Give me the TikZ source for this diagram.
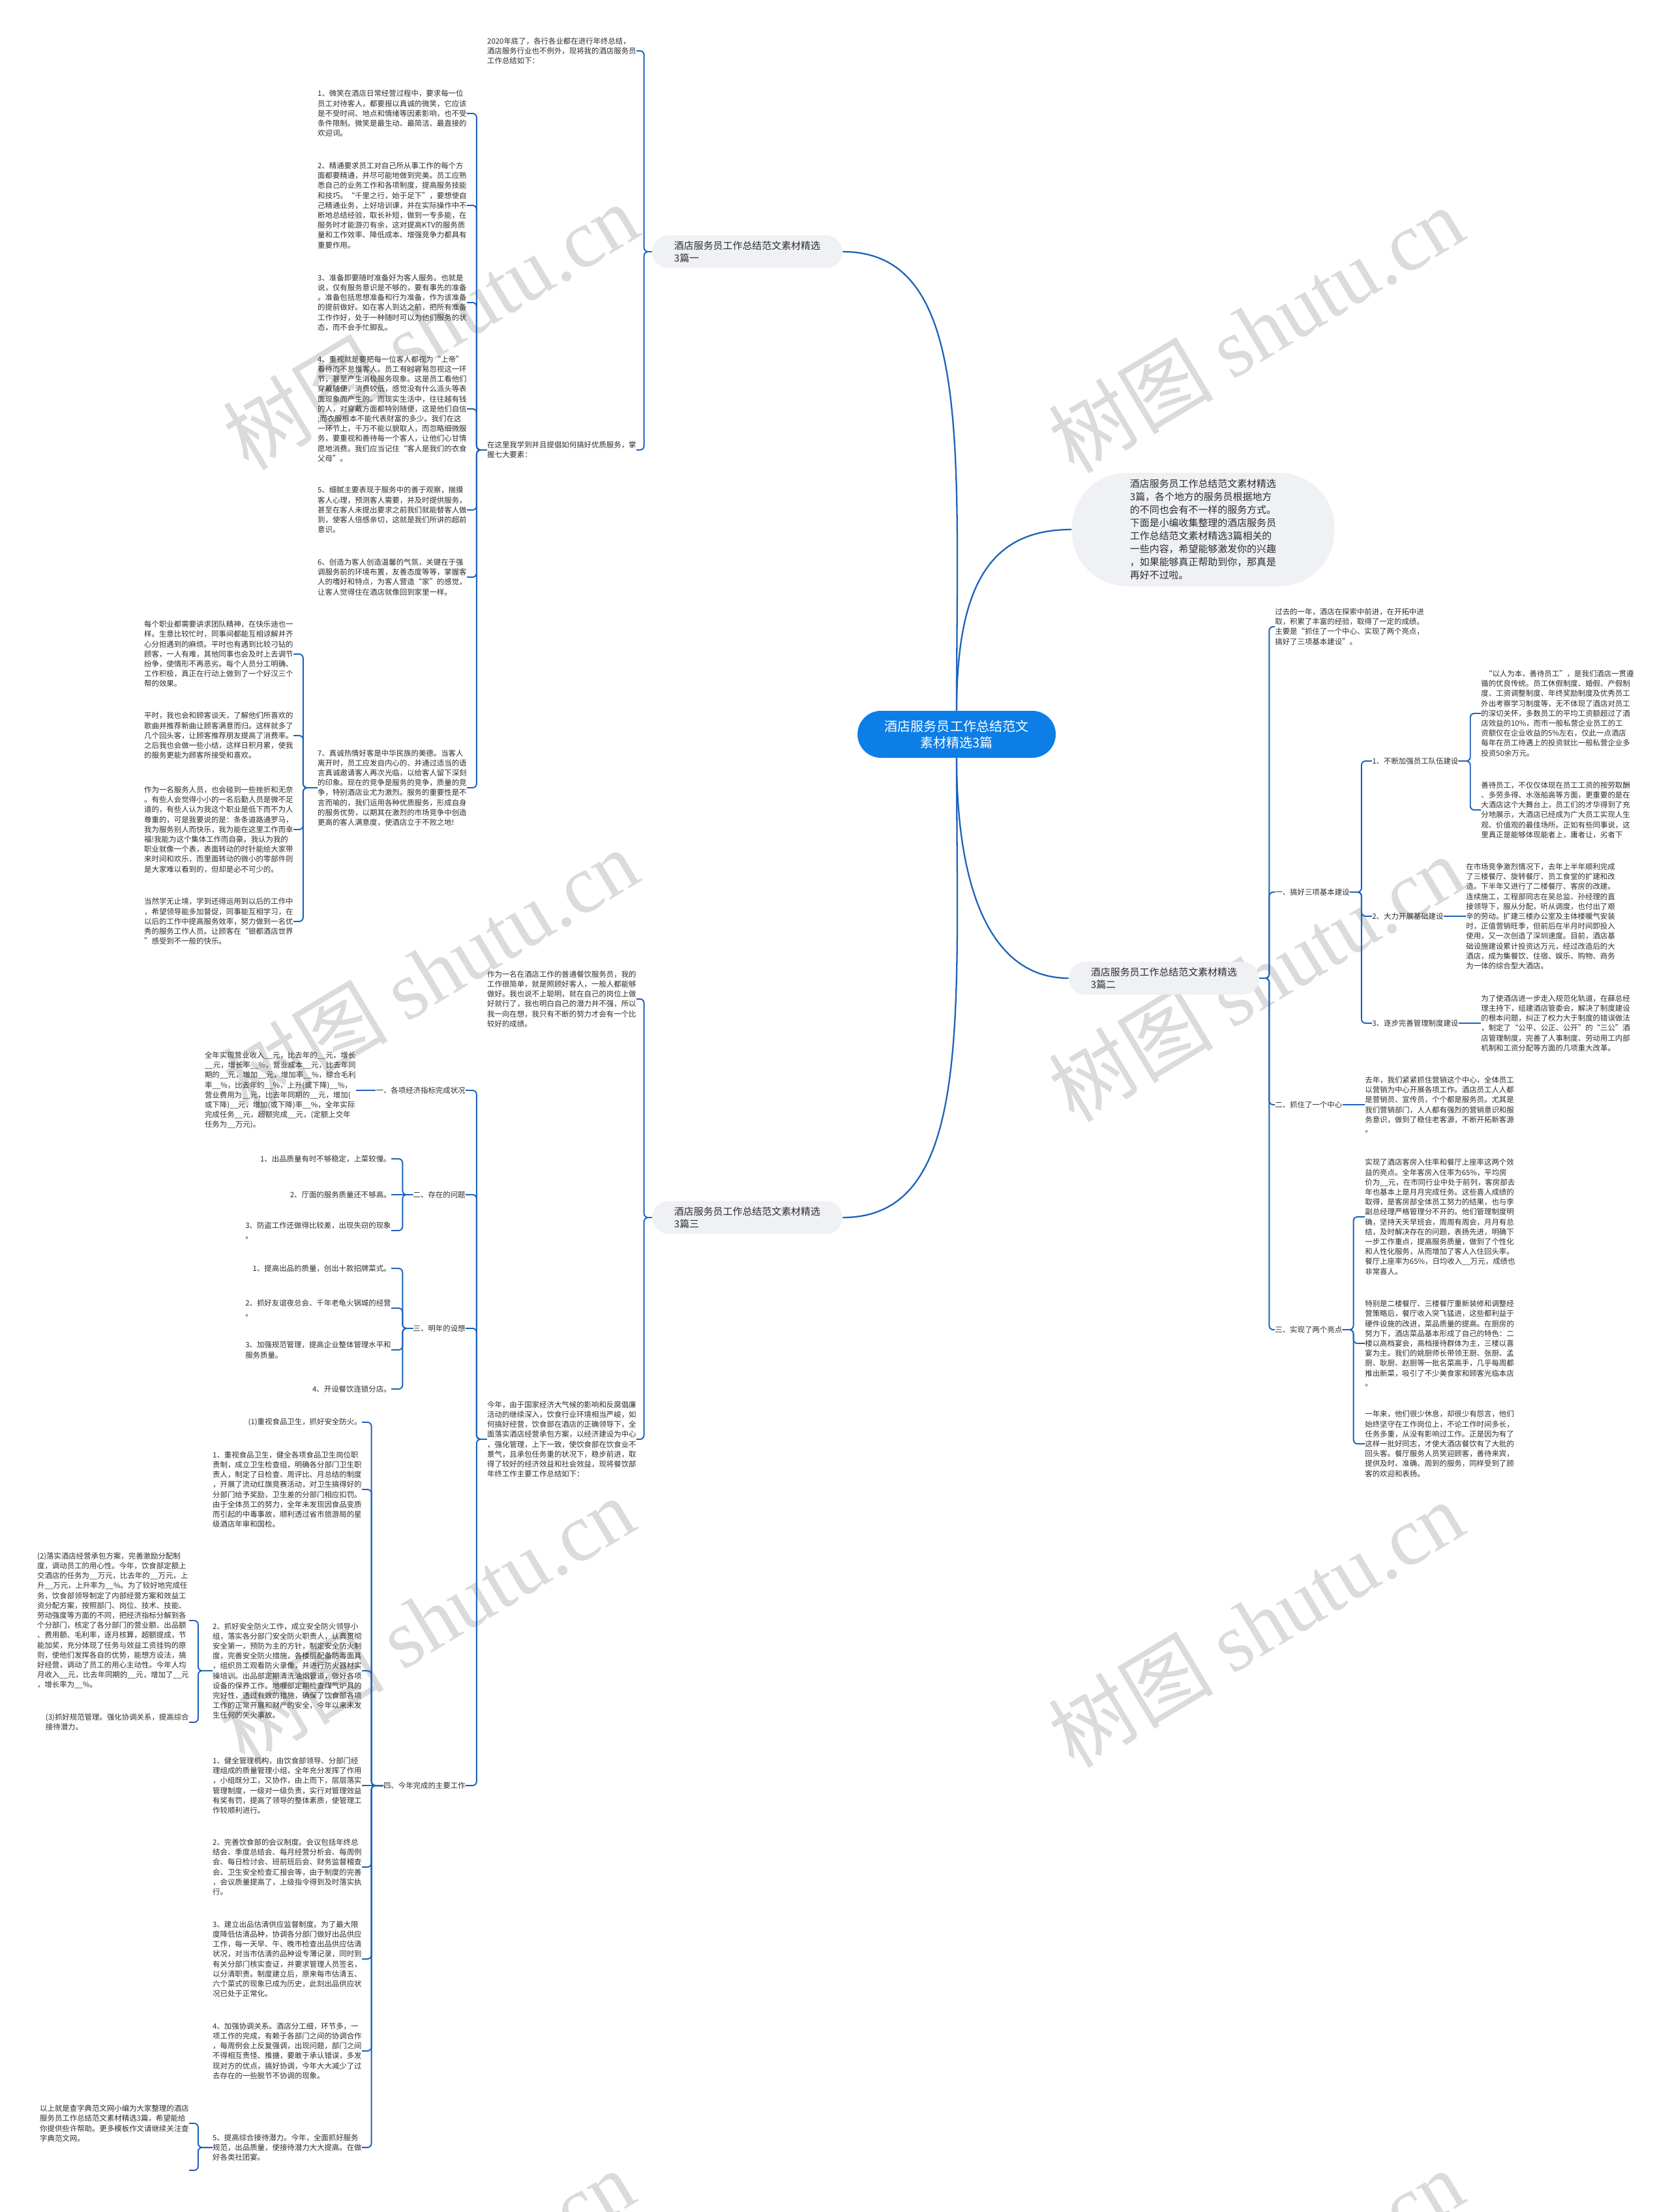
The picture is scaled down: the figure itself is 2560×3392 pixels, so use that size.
\documentclass[tikz,border=0pt]{standalone}
\usepackage{fontspec}
\setmainfont{Noto Sans CJK SC}
\newfontfamily\wmfont{Liberation Serif}
\usepackage{xcolor}
\usepackage{tikz}

\definecolor{linkblue}{RGB}{28,99,186}
\definecolor{rootblue}{RGB}{13,126,230}
\definecolor{topicgray}{RGB}{239,241,244}
\definecolor{inkgray}{RGB}{45,45,45}

\tikzset{
  link/.style={draw=linkblue, line width=1.1pt, rounded corners=3.5pt},
  trunk/.style={draw=linkblue, line width=1.3pt},
  leaf/.style={align=left, inner sep=0pt, text=inkgray, font=\fontsize{6.5pt}{8.65pt}\selectfont},
  topic/.style={fill=topicgray, rounded corners=5mm, align=left, minimum width=58.4mm, minimum height=10mm, text=inkgray, font=\fontsize{8.5pt}{10.8pt}\selectfont},
  introbox/.style={fill=topicgray, rounded corners=17mm, align=left, minimum width=80.6mm, minimum height=34.8mm, text=inkgray, font=\fontsize{8.5pt}{11.4pt}\selectfont},
  rootbox/.style={fill=rootblue, text=white, rounded corners=7.2mm, align=center, minimum width=60.8mm, minimum height=14.4mm, font=\fontsize{11.4pt}{14.2pt}\selectfont},
  wm/.style={text=gray!28, rotate=31, inner sep=0pt, font=\fontsize{72pt}{72pt}\selectfont}
}

\begin{document}
\begin{tikzpicture}[x=0.2mm,y=-0.2mm]
\useasboundingbox (0,0) rectangle (2560,3392);
\fill[white] (0,0) rectangle (2560,3392);
\clip (0,0) rectangle (2560,3392);

\foreach \wx/\wy in {660/500,1926/505,660/1490,1926/1500,654/2484,1926/2490,654/3515,1926/3515}
  \node[wm] at (\wx,\wy) {树图 {\wmfont shutu.cn}};

\node[rootbox] (root) at (1467,1126) {酒店服务员工作总结范文\\素材精选3篇};
\node[introbox] (intro) at (1845,812) {酒店服务员工作总结范文素材精选\\
3篇，各个地方的服务员根据地方\\的不同也会有不一样的服务方式。\\下面是小编收集整理的酒店服务员\\
工作总结范文素材精选3篇相关的\\一些内容，希望能够激发你的兴趣\\，如果能够真正帮助到你，那真是\\再好不过啦。};
\node[topic] (p1) at (1146,386) {酒店服务员工作总结范文素材精选\\3篇一};
\node[topic] (p2) at (1785,1500) {酒店服务员工作总结范文素材精选\\3篇二};
\node[topic] (p3) at (1146,1867) {酒店服务员工作总结范文素材精选\\3篇三};

% 篇一
\node[leaf, anchor=east] (intro1) at (976,78) {2020年底了，各行各业都在进行年终总结，\\酒店服务行业也不例外，现将我的酒店服务员\\工作总结如下：};
\node[leaf, anchor=east] (seven) at (976,690) {在这里我学到并且提倡如何搞好优质服务，掌\\握七大要素：};
\node[leaf, anchor=east] (i1) at (716,174) {1、微笑在酒店日常经营过程中，要求每一位\\员工对待客人，都要报以真诚的微笑，它应该\\
是不受时间、地点和情绪等因素影响，也不受\\条件限制。微笑是最生动、最简洁、最直接的\\欢迎词。};
\node[leaf, anchor=east] (i2) at (716,315) {2、精通要求员工对自己所从事工作的每个方\\面都要精通，并尽可能地做到完美。员工应熟\\
悉自己的业务工作和各项制度，提高服务技能\\和技巧。“千里之行，始于足下”，要想使自\\
己精通业务，上好培训课，并在实际操作中不\\断地总结经验，取长补短，做到一专多能，在\\
服务时才能游刃有余，这对提高KTV的服务质\\量和工作效率、降低成本、增强竞争力都具有\\重要作用。};
\node[leaf, anchor=east] (i3) at (716,464) {3、准备即要随时准备好为客人服务。也就是\\说，仅有服务意识是不够的，要有事先的准备\\
。准备包括思想准备和行为准备，作为该准备\\的提前做好。如在客人到达之前，把所有准备\\
工作作好，处于一种随时可以为他们服务的状\\态，而不会手忙脚乱。};
\node[leaf, anchor=east] (i4) at (716,627) {4、重视就是要把每一位客人都视为“上帝”\\看待而不怠慢客人。员工有时容易忽视这一环\\
节，甚至产生消极服务现象。这是员工看他们\\穿戴随便，消费较低，感觉没有什么派头等表\\
面现象而产生的。而现实生活中，往往越有钱\\的人，对穿戴方面都特别随便，这是他们自信\\
;而衣服根本不能代表财富的多少。我们在这\\一环节上，千万不能以貌取人，而忽略细微服\\
务，要重视和善待每一个客人，让他们心甘情\\愿地消费。我们应当记住“客人是我们的衣食\\父母”。};
\node[leaf, anchor=east] (i5) at (716,782) {5、细腻主要表现于服务中的善于观察，揣摸\\客人心理，预测客人需要，并及时提供服务，\\
甚至在客人未提出要求之前我们就能替客人做\\到，使客人倍感亲切，这就是我们所讲的超前\\意识。};
\node[leaf, anchor=east] (i6) at (716,885) {6、创造为客人创造温馨的气氛，关键在于强\\调服务前的环境布置，友善态度等等，掌握客\\
人的嗜好和特点，为客人营造“家”的感觉，\\让客人觉得住在酒店就像回到家里一样。};
\node[leaf, anchor=east] (i7) at (716,1208) {7、真诚热情好客是中华民族的美德。当客人\\离开时，员工应发自内心的、并通过适当的语\\
言真诚邀请客人再次光临，以给客人留下深刻\\的印象。现在的竞争是服务的竞争，质量的竞\\
争，特别酒店业尤为激烈。服务的重要性是不\\言而喻的，我们运用各种优质服务，形成自身\\
的服务优势，以期其在激烈的市场竞争中创造\\更高的客人满意度，使酒店立于不败之地!};
\node[leaf, anchor=east] (f1) at (450,1003) {每个职业都需要讲求团队精神，在快乐迪也一\\样。生意比较忙时，同事间都能互相谅解并齐\\
心分担遇到的麻烦。平时也有遇到比较刁钻的\\顾客，一人有难，其他同事也会及时上去调节\\
纷争，使情形不再恶劣。每个人员分工明确、\\工作积极，真正在行动上做到了一个好汉三个\\帮的效果。};
\node[leaf, anchor=east] (f2) at (450,1128) {平时，我也会和顾客谈天，了解他们所喜欢的\\歌曲并推荐新曲让顾客满意而归。这样就多了\\
几个回头客，让顾客推荐朋友提高了消费率。\\之后我也会做一些小结，这样日积月累，使我\\的服务更能为顾客所接受和喜欢。};
\node[leaf, anchor=east] (f3) at (450,1272) {作为一名服务人员，也会碰到一些挫折和无奈\\。有些人会觉得小小的一名后勤人员是微不足\\
道的，有些人认为我这个职业是低下而不为人\\尊重的，可是我要说的是：条条道路通罗马，\\
我为服务别人而快乐，我为能在这里工作而幸\\福!我能为这个集体工作而自豪。我认为我的\\
职业就像一个表，表面转动的时针能给大家带\\来时间和欢乐，而里面转动的微小的零部件则\\是大家难以看到的，但却是必不可少的。};
\node[leaf, anchor=east] (f4) at (450,1413) {当然学无止境，学到还得运用到以后的工作中\\，希望领导能多加督促，同事能互相学习，在\\
以后的工作中提高服务效率，努力做到一名优\\秀的服务工作人员。让顾客在“银都酒店世界\\”感受到不一般的快乐。};

% 篇二
\node[leaf, anchor=west] (past) at (1955,961) {过去的一年，酒店在探索中前进，在开拓中进\\取，积累了丰富的经验，取得了一定的成绩。\\
主要是“抓住了一个中心、实现了两个亮点，\\搞好了三项基本建设”。};
\node[leaf, anchor=west] (s1) at (1955,1368) {一、搞好三项基本建设};
\node[leaf, anchor=west] (s2) at (1955,1694) {二、抓住了一个中心};
\node[leaf, anchor=west] (s3) at (1955,2039) {三、实现了两个亮点};
\node[leaf, anchor=west] (s1a) at (2104,1167) {1、不断加强员工队伍建设};
\node[leaf, anchor=west] (s1b) at (2104,1405) {2、大力开展基础建设};
\node[leaf, anchor=west] (s1c) at (2104,1569) {3、逐步完善管理制度建设};
\node[leaf, anchor=west] (a1) at (2271,1094) {\hspace*{0.5em}“以人为本，善待员工”，是我们酒店一贯遵\\循的优良传统。员工休假制度、婚假、产假制\\
度、工资调整制度、年终奖励制度及优秀员工\\外出考察学习制度等，无不体现了酒店对员工\\
的深切关怀，多数员工的平均工资额超过了酒\\店效益的10\%，而市一般私营企业员工的工\\
资额仅在企业收益的5\%左右，仅此一点酒店\\每年在员工待遇上的投资就比一般私营企业多\\投资50余万元。};
\node[leaf, anchor=west] (a2) at (2271,1242) {善待员工，不仅仅体现在员工工资的按劳取酬\\、多劳多得、水涨船高等方面，更重要的是在\\
大酒店这个大舞台上，员工们的才华得到了充\\分地展示，大酒店已经成为广大员工实现人生\\
观、价值观的最佳场所。正如有些同事说，这\\里真正是能够体现能者上，庸者让，劣者下};
\node[leaf, anchor=west] (b1) at (2248,1405) {在市场竞争激烈情况下，去年上半年顺利完成\\了三楼餐厅、旋转餐厅、员工食堂的扩建和改\\
造。下半年又进行了二楼餐厅、客房的改建。\\连续施工，工程部同志在吴总监、孙经理的直\\
接领导下，服从分配，听从调度，也付出了艰\\辛的劳动。扩建三楼办公室及主体楼暖气安装\\
时，正值营销旺季，但前后在半月时间即投入\\使用，又一次创造了深圳速度。目前，酒店基\\
础设施建设累计投资达万元，经过改造后的大\\酒店，成为集餐饮、住宿、娱乐、购物、商务\\为一体的综合型大酒店。};
\node[leaf, anchor=west] (c1) at (2271,1569) {为了使酒店进一步走入规范化轨道，在薛总经\\理主持下，组建酒店管委会，解决了制度建设\\
的根本问题，纠正了权力大于制度的错误做法\\，制定了“公平、公正、公开”的“三公”酒\\
店管理制度，完善了人事制度、劳动用工内部\\机制和工资分配等方面的几项重大改革。};
\node[leaf, anchor=west] (d1) at (2093,1694) {去年，我们紧紧抓住营销这个中心，全体员工\\以营销为中心开展各项工作。酒店员工人人都\\
是营销员、宣传员，个个都是服务员。尤其是\\我们营销部门，人人都有强烈的营销意识和服\\
务意识，做到了稳住老客源，不断开拓新客源\\。};
\node[leaf, anchor=west] (e1) at (2093,1866) {实现了酒店客房入住率和餐厅上座率这两个效\\益的亮点。全年客房入住率为65\%，平均房\\
价为\_\_元，在市同行业中处于前列，客房部去\\年也基本上是月月完成任务。这些喜人成绩的\\
取得，是客房部全体员工努力的结果，也与李\\副总经理严格管理分不开的。他们管理制度明\\
确，坚持天天早班会，周周有周会，月月有总\\结，及时解决存在的问题，表扬先进，明确下\\
一步工作重点，提高服务质量，做到了个性化\\和人性化服务，从而增加了客人入住回头率。\\
餐厅上座率为65\%，日均收入\_\_万元，成绩也\\非常喜人。};
\node[leaf, anchor=west] (e2) at (2093,2060) {特别是二楼餐厅、三楼餐厅重新装修和调整经\\营策略后，餐厅收入突飞猛进，这些都利益于\\
硬件设施的改进，菜品质量的提高。在厨房的\\努力下，酒店菜品基本形成了自己的特色：二\\
楼以高档宴会，高档接待群体为主，三楼以喜\\宴为主。我们的姚厨师长带领王厨、张厨、孟\\
厨、耿厨、赵厨等一批名菜高手，几乎每周都\\推出新菜，吸引了不少美食家和顾客光临本店\\。};
\node[leaf, anchor=west] (e3) at (2093,2214) {一年来，他们很少休息，却很少有怨言，他们\\始终坚守在工作岗位上，不论工作时间多长，\\
任务多重，从没有影响过工作。正是因为有了\\这样一批好同志，才使大酒店餐饮有了大批的\\
回头客。餐厅服务人员笑迎顾客，善待来宾，\\提供及时、准确、周到的服务，同样受到了顾\\客的欢迎和表扬。};

% 篇三
\node[leaf, anchor=east] (t3a) at (976,1532) {作为一名在酒店工作的普通餐饮服务员，我的\\工作很简单，就是照顾好客人，一般人都能够\\
做好。我也说不上聪明，就在自己的岗位上做\\好就行了，我也明白自己的潜力并不强，所以\\
我一向在想，我只有不断的努力才会有一个比\\较好的成绩。};
\node[leaf, anchor=east] (t3b) at (976,2207) {今年，由于国家经济大气候的影响和反腐倡廉\\活动的继续深入，饮食行业环境相当严峻，如\\
何搞好经营，饮食部在酒店的正确领导下，全\\面落实酒店经营承包方案，以经济建设为中心\\
，强化管理，上下一致，使饮食部在饮食业不\\景气，且承包任务重的状况下，稳步前进，取\\
得了较好的经济效益和社会效益，现将餐饮部\\年终工作主要工作总结如下：};
\node[leaf, anchor=east] (L1) at (714,1672) {一、各项经济指标完成状况};
\node[leaf, anchor=east] (L2) at (714,1832) {二、存在的问题};
\node[leaf, anchor=east] (L3) at (714,2037) {三、明年的设想};
\node[leaf, anchor=east] (L4) at (714,2738) {四、今年完成的主要工作};
\node[leaf, anchor=east] (g1) at (546,1672) {全年实现营业收入\_\_元，比去年的\_\_元，增长\\\_\_元，增长率\_\_\%，营业成本\_\_元，比去年同\\
期的\_\_元，增加\_\_元，增加率\_\_\%，综合毛利\\率\_\_\%，比去年的\_\_\%，上升(或下降)\_\_\%，\\
营业费用为\_\_元，比去年同期的\_\_元，增加(\\或下降)\_\_元，增加(或下降)率\_\_\%，全年实际\\
完成任务\_\_元，超额完成\_\_元，(定额上交年\\任务为\_\_万元)。};
\node[leaf, anchor=east] (h1) at (600,1777) {1、出品质量有时不够稳定，上菜较慢。};
\node[leaf, anchor=east] (h2) at (600,1832) {2、厅面的服务质量还不够高。};
\node[leaf, anchor=east] (h3) at (600,1887) {3、防盗工作还做得比较差，出现失窃的现象\\。};
\node[leaf, anchor=east] (k1) at (600,1945) {1、提高出品的质量，创出十款招牌菜式。};
\node[leaf, anchor=east] (k2) at (600,2006) {2、抓好友谊夜总会、千年老龟火锅城的经营\\。};
\node[leaf, anchor=east] (k3) at (600,2070) {3、加强规范管理，提高企业整体管理水平和\\服务质量。};
\node[leaf, anchor=east] (k4) at (600,2130) {4、开设餐饮连锁分店。};
\node[leaf, anchor=east] (q1) at (555,2181) {(1)重视食品卫生，抓好安全防火。};
\node[leaf, anchor=east] (q2) at (555,2284) {1、重视食品卫生，健全各项食品卫生岗位职\\责制，成立卫生检查组，明确各分部门卫生职\\
责人，制定了日检查、周评比、月总结的制度\\，开展了流动红旗竞赛活动，对卫生搞得好的\\
分部门给予奖励，卫生差的分部门相应扣罚。\\由于全体员工的努力，全年未发现因食品变质\\
而引起的中毒事故，顺利透过省市旅游局的星\\级酒店年审和国检。};
\node[leaf, anchor=east] (q3) at (555,2562) {2、抓好安全防火工作，成立安全防火领导小\\组，落实各分部门安全防火职责人，认真贯彻\\
安全第一，预防为主的方针，制定安全防火制\\度，完善安全防火措施，各楼层配备防毒面具\\
，组织员工观看防火录像，并进行防火器材实\\操培训。出品部定期清洗油烟管道，做好各项\\
设备的保养工作。地喱部定期检查煤气炉具的\\完好性，透过有效的措施，确保了饮食部各项\\
工作的正常开展和财产的安全，今年以来未发\\生任何的失火事故。};
\node[leaf, anchor=east] (q4) at (555,2738) {1、健全管理机构，由饮食部领导、分部门经\\理组成的质量管理小组，全年充分发挥了作用\\
，小组既分工，又协作，由上而下，层层落实\\管理制度，一级对一级负责，实行对管理效益\\
有奖有罚，提高了领导的整体素质，使管理工\\作较顺利进行。};
\node[leaf, anchor=east] (q5) at (555,2863) {2、完善饮食部的会议制度。会议包括年终总\\结会、季度总结会、每月经营分析会、每周例\\
会、每日检讨会、班前班后会、财务监督稽查\\会、卫生安全检查汇报会等，由于制度的完善\\
，会议质量提高了，上级指令得到及时落实执\\行。};
\node[leaf, anchor=east] (q6) at (555,3004) {3、建立出品估清供应监督制度。为了最大限\\度降低估清品种，协调各分部门做好出品供应\\
工作，每一天早、午、晚市检查出品供应估清\\状况，对当市估清的品种设专薄记录，同时到\\
有关分部门核实查证，并要求管理人员签名，\\以分清职责。制度建立后，原来每市估清五、\\
六个菜式的现象已成为历史，此刻出品供应状\\况已处于正常化。};
\node[leaf, anchor=east] (q7) at (555,3145) {4、加强协调关系。酒店分工细，环节多，一\\项工作的完成，有赖于各部门之间的协调合作\\
，每周例会上反复强调，出现问题，部门之间\\不得相互责怪、推搪，要敢于承认错误，多发\\
现对方的优点，搞好协调，今年大大减少了过\\去存在的一些脱节不协调的现象。};
\node[leaf, anchor=east] (q8) at (555,3293) {5、提高综合接待潜力。今年，全面抓好服务\\规范，出品质量，使接待潜力大大提高。在做\\好各类社团宴。};
\node[leaf, anchor=east] (r1) at (290,2485) {(2)落实酒店经营承包方案，完善激励分配制\\度，调动员工的用心性。今年，饮食部定额上\\
交酒店的任务为\_\_万元，比去年的\_\_万元，上\\升\_\_万元，上升率为\_\_\%。为了较好地完成任\\
务，饮食部领导制定了内部经营方案和效益工\\资分配方案，按照部门、岗位、技术、技能、\\
劳动强度等方面的不同，把经济指标分解到各\\个分部门，核定了各分部门的营业额、出品额\\
、费用额、毛利率，逐月核算，超额提成，节\\能加奖，充分体现了任务与效益工资挂钩的原\\
则，使他们发挥各自的优势，能想方设法，搞\\好经营，调动了员工的用心主动性。今年人均\\
月收入\_\_元，比去年同期的\_\_元，增加了\_\_元\\，增长率为\_\_\%。};
\node[leaf, anchor=east] (r2) at (290,2641) {(3)抓好规范管理。强化协调关系，提高综合\\接待潜力。};
\node[leaf, anchor=east] (z1) at (290,3256) {以上就是查字典范文网小编为大家整理的酒店\\服务员工作总结范文素材精选3篇，希望能给\\
你提供些许帮助。更多模板作文请继续关注查\\字典范文网。};
\coordinate (zz) at (290,3328);

% connectors
\draw[trunk] (root.north) .. controls +(0,-400) and +(200,0) .. (p1.east);
\draw[trunk] (root.north) .. controls +(0,-200) and +(-120,0) .. (intro.west);
\draw[trunk] (root.south) .. controls +(0,200) and +(-120,0) .. (p2.west);
\draw[trunk] (root.south) .. controls +(0,400) and +(200,0) .. (p3.east);

\foreach \c in {intro1,seven} \draw[link] (p1.west) -- ++(-12,0) |- (\c.east);
\foreach \c in {i1,i2,i3,i4,i5,i6,i7} \draw[link] (seven.west) -- ++(-16,0) |- (\c.east);
\foreach \c in {f1,f2,f3,f4} \draw[link] (i7.west) -- ++(-22,0) |- (\c.east);

\foreach \c in {past,s1,s2,s3} \draw[link] (p2.east) -- ++(15,0) |- (\c.west);
\foreach \c in {s1a,s1b,s1c} \draw[link] (s1.east) -- ++(18,0) |- (\c.west);
\foreach \c in {a1,a2} \draw[link] (s1a.east) -- ++(18,0) |- (\c.west);
\draw[link] (s1b.east) -- (b1.west);
\draw[link] (s1c.east) -- (c1.west);
\draw[link] (s2.east) -- (d1.west);
\foreach \c in {e1,e2,e3} \draw[link] (s3.east) -- ++(17,0) |- (\c.west);

\foreach \c in {t3a,t3b} \draw[link] (p3.west) -- ++(-12,0) |- (\c.east);
\foreach \c in {L1,L2,L3,L4} \draw[link] (t3b.west) -- ++(-16,0) |- (\c.east);
\draw[link] (L1.west) -- (g1.east);
\foreach \c in {h1,h3} \draw[link] (L2.west) -- ++(-16,0) |- (\c.east);
\draw[link] (L2.west) -- (h2.east);
\foreach \c in {k1,k2,k3,k4} \draw[link] (L3.west) -- ++(-16,0) |- (\c.east);
\foreach \c in {q1,q2,q3,q5,q6,q7,q8} \draw[link] (L4.west) -- ++(-18,0) |- (\c.east);
\draw[link] (L4.west) -- (q4.east);
\foreach \c in {r1,r2} \draw[link] (q3.west) -- ++(-22,0) |- (\c.east);
\draw[link] (q8.west) -- ++(-22,0) |- (z1.east);
\draw[link] (q8.west) -- ++(-22,0) |- (zz);
\end{tikzpicture}
\end{document}
